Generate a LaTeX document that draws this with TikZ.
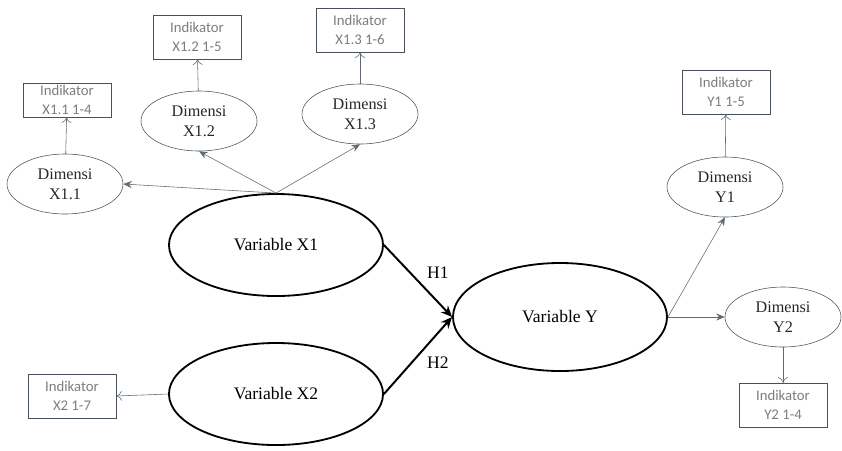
\documentclass[tikz,border=0pt]{standalone}
\usepackage{fontspec}
\setmainfont{Liberation Serif}
\newfontfamily\serf{Liberation Serif}
\newfontfamily\indfont{Carlito}
\usepackage{tikz}
\usetikzlibrary{shapes.geometric,arrows.meta}
\definecolor{rand}{RGB}{72,82,92}
\definecolor{grau}{RGB}{125,125,125}
\definecolor{pfeil}{RGB}{95,105,115}

\begin{document}
\begin{tikzpicture}[x=0.025cm,y=-0.025cm,line cap=round]
	\tikzstyle{var}=[ellipse,draw=black,line width=1.3pt,minimum width=5.35cm,minimum height=2.55cm,font=\serf\fontsize{12.5}{14}\selectfont];
	\tikzstyle{dim}=[ellipse,draw=rand,thin,minimum width=2.9cm,minimum height=1.5cm,inner sep=0pt,align=center,text=black!85,font=\serf\fontsize{11.5}{14}\selectfont];
	\tikzstyle{ind}=[rectangle,draw=rand,thin,minimum width=2.2cm,minimum height=1.1cm,inner sep=1pt,align=center,text=grau,font=\indfont\fontsize{10.5}{13}\selectfont];
	\tikzstyle{lad}=[pfeil,thin,-{Stealth[length=6pt,width=5pt]}];
	\tikzstyle{hoch}=[pfeil,thin,-{To[length=4pt,width=7pt]}];
	\tikzstyle{hyp}=[black,line width=1.4pt,-{Stealth[length=8pt,width=7pt]}];
%<--------------------------------------------------------------------------->%

	\useasboundingbox (0,0) rectangle (842,450);
	%% latent variables
	\node[var] (x1) at (276,245) {Variable X1};
	\node[var] (x2) at (276,394) {Variable X2};
	\node[var,minimum height=2.7cm] (y) at (560,317) {Variable Y};
	%% dimensions
	\node[dim] (dx11) at (65,184)  {Dimensi\\X1.1};
	\node[dim] (dx12) at (199,121) {Dimensi\\X1.2};
	\node[dim] (dx13) at (360,114) {Dimensi\\X1.3};
	\node[dim] (dy1)  at (725,187) {Dimensi\\Y1};
	\node[dim] (dy2)  at (783,317) {Dimensi\\Y2};
	%% indicators
	\node[ind,minimum height=0.85cm] (ix11) at (67,100) {Indikator\\X1.1 1-4};
	\node[ind] (ix12) at (197,37)  {Indikator\\X1.2 1-5};
	\node[ind] (ix13) at (360,30)  {Indikator\\X1.3 1-6};
	\node[ind] (ix2)  at (72,396)  {Indikator\\X2 1-7};
	\node[ind] (iy1)  at (726,92)  {Indikator\\Y1 1-5};
	\node[ind] (iy2)  at (783,405) {Indikator\\Y2 1-4};
	%% loadings
	\draw[lad] (x1.north) -- (dx11.east);
	\draw[lad] (x1.north) -- (dx12.south);
	\draw[lad] (x1.north) -- (dx13.south);
	\draw[lad] (y.east) -- (dy1.south);
	\draw[lad] (y.east) -- (dy2.west);
	\draw[hoch] (dx11) -- (ix11);
	\draw[hoch] (dx12) -- (ix12);
	\draw[hoch] (dx13) -- (ix13);
	\draw[hoch] (dy1) -- (iy1);
	\draw[hoch] (dy2) -- (iy2);
	\draw[hoch] (x2.west) -- (ix2.east);
	%% hypotheses
	\draw[hyp] (x1.east) -- node[pos=0.55,above right=0pt,font=\serf\fontsize{12.5}{14}\selectfont] (h1) {H1} (y.west);
	\draw[hyp] (x2.east) -- node[pos=0.55,below right=0pt,font=\serf\fontsize{12.5}{14}\selectfont] (h2) {H2} (y.west);
\end{tikzpicture}
\end{document}
